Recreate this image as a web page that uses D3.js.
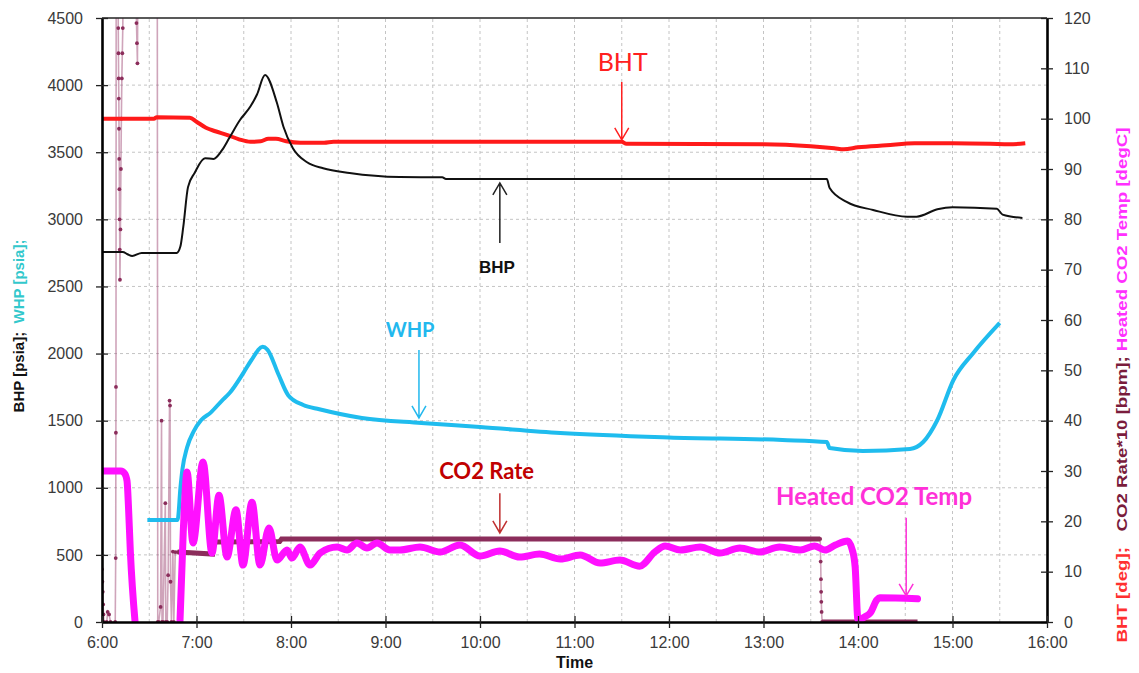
<!DOCTYPE html>
<html>
<head>
<meta charset="utf-8">
<script src="https://cdn.jsdelivr.net/npm/d3@7"></script>
<style>
  body { margin: 0; background: #fff; }
  svg { display: block; }
</style>
</head>
<body>
<svg id="chart" width="1139" height="673"></svg>
<script>
// time in decimal hours, pressures in psia (left axis), the rest on the right axis
var hourTicks = [6, 7, 8, 9, 10, 11, 12, 13, 14, 15, 16];
var leftTicks = [0, 500, 1000, 1500, 2000, 2500, 3000, 3500, 4000, 4500];
var rightTicks = [0, 10, 20, 30, 40, 50, 60, 70, 80, 90, 100, 110, 120];

var bht = [[6.00, 100], [6.55, 100], [6.58, 100.3], [6.93, 100.2], [7.00, 99.4], [7.10, 98.2],
  [7.20, 97.5], [7.32, 96.8], [7.45, 95.9], [7.57, 95.4], [7.68, 95.5], [7.76, 96.0], [7.84, 96.0],
  [7.95, 95.5], [8.10, 95.2], [8.35, 95.2], [8.45, 95.4], [10.0, 95.4], [11.5, 95.4], [11.55, 95.0],
  [13.0, 94.9], [13.5, 94.5], [13.75, 94.1], [13.85, 93.9], [14.0, 94.3], [14.3, 94.7], [14.6, 95.1],
  [15.0, 95.1], [15.4, 95.0], [15.6, 94.9], [15.77, 95.1]];

var bhp = [[6.00, 2757], [6.22, 2757], [6.27, 2740], [6.32, 2727], [6.42, 2750], [6.79, 2750],
  [6.83, 2800], [6.86, 2943], [6.91, 3240], [6.98, 3345], [7.09, 3455], [7.18, 3450], [7.27, 3515],
  [7.35, 3610], [7.46, 3740], [7.57, 3840], [7.64, 3930], [7.725, 4075], [7.85, 3870], [7.92, 3690],
  [8.02, 3530], [8.17, 3425], [8.34, 3380], [8.62, 3345], [9.15, 3315], [9.60, 3313], [9.64, 3300],
  [13.67, 3300], [13.70, 3233], [13.88, 3130], [14.16, 3070], [14.52, 3020], [14.62, 3020],
  [14.84, 3075], [15.00, 3090], [15.47, 3078], [15.53, 3035], [15.74, 3010]];

var whp = [[6.48, 760], [6.80, 760], [6.83, 1000], [6.85, 1132], [6.90, 1300], [6.97, 1420],
  [7.05, 1505], [7.15, 1560], [7.27, 1650], [7.35, 1706], [7.50, 1860], [7.58, 1950], [7.70, 2050],
  [7.75, 2030], [7.87, 1840], [7.97, 1690], [8.13, 1617], [8.30, 1585], [8.75, 1520], [9.38, 1483],
  [10.0, 1453], [10.85, 1408], [12.0, 1375], [13.2, 1356], [13.67, 1341], [13.70, 1296],
  [14.05, 1274], [14.55, 1289], [14.69, 1341], [14.84, 1505], [15.01, 1803], [15.22, 2004], [15.50, 2228]];

// raw CO2 rate*10 readings (noisy start and shut-down), values above 120 run off the chart
var co2Raw = [[6.000, 10.5], [6.004, 8], [6.008, 6], [6.012, 3.5], [6.016, 1.5], [6.02, 0], [6.05, 0],
  [6.06, 2], [6.075, 1.5], [6.09, 0], [6.14, 0], [6.145, 12.7], [6.147, 37.6], [6.148, 46.7],
  [6.15, 130], [6.17, 130], [6.172, 118], [6.174, 113], [6.176, 108], [6.178, 104], [6.18, 98],
  [6.182, 92], [6.184, 86], [6.186, 80], [6.188, 74], [6.19, 68], [6.195, 78], [6.20, 90],
  [6.205, 100], [6.21, 108], [6.215, 113], [6.22, 118], [6.225, 130], [6.36, 130], [6.365, 119],
  [6.37, 115], [6.375, 111], [6.38, 130], [6.585, 130], [6.59, 0], [6.60, 0], [6.62, 3], [6.63, 40],
  [6.635, 0], [6.645, 0], [6.67, 23.6], [6.675, 0], [6.69, 0], [6.70, 9.3], [6.715, 44], [6.72, 43],
  [6.725, 8], [6.735, 0], [6.75, 14], [6.76, 0], [6.775, 13.9], [6.80, 13.9], null,
  [13.60, 16.5], [13.605, 12], [13.608, 8.5], [13.61, 6], [13.612, 4], [13.615, 2], [13.62, 0]];

var co2Rate = [[6.80, 13.9], [7.17, 13.5], [7.18, 15.9], [7.88, 16.0], [7.90, 16.5], [13.60, 16.5],
  null, [13.62, 0], [14.63, 0]];

var co2Temp = [[6.00, 30], [6.20, 30], [6.24, 29.5], [6.265, 28], [6.28, 23], [6.30, 14], [6.35, 0],
  null, [6.825, 0], [6.86, 18], [6.90, 29.8], [6.963, 15.7], [7.069, 31.8], [7.164, 13.7],
  [7.238, 25.2], [7.323, 12.9], [7.418, 22.3], [7.492, 11.3], [7.587, 23.8], [7.672, 11.3],
  [7.767, 18.7], [7.852, 12.3], [7.958, 14.3], [8.011, 12.7], [8.095, 14.9], [8.201, 11.3],
  [8.307, 13.7], [8.487, 14.9], [8.593, 14.3], [8.698, 15.7], [8.804, 14.7], [8.910, 15.7],
  [9.048, 14.3], [9.153, 14.3], [9.365, 14.9], [9.577, 13.9], [9.788, 15.3], [10.0, 13.1],
  [10.21, 14.1], [10.42, 12.9], [10.63, 13.5], [10.85, 12.5], [11.06, 13.3], [11.27, 11.7],
  [11.48, 12.3], [11.69, 11.1], [11.85, 13.9], [11.96, 15.1], [12.12, 14.3], [12.33, 14.9],
  [12.54, 13.7], [12.75, 14.7], [12.96, 13.9], [13.17, 14.9], [13.39, 14.3], [13.54, 15.1],
  [13.65, 14.3], [13.76, 15.3], [13.89, 16.1], [13.94, 14.3], [13.97, 10.9], [14.00, 0.4],
  [14.07, 1.0], [14.13, 1.8], [14.20, 4.4], [14.23, 4.8], [14.63, 4.6]];

var svg = d3.select('#chart');
var x = d3.scaleLinear().domain([6, 16]).range([102, 1047]);
var yL = d3.scaleLinear().domain([0, 4500]).range([622, 18]);
var yR = d3.scaleLinear().domain([0, 120]).range([622, 18]);

var axisFont = '"Liberation Sans", Arial, sans-serif';
var noteFont = 'Lato, "Open Sans", sans-serif';

// grid
var grid = svg.append('g').attr('stroke', '#c4c4c4').attr('stroke-dasharray', '3,3');
grid.selectAll('line.h').data(leftTicks.slice(1, -1)).join('line')
  .attr('x1', x(6)).attr('x2', x(16))
  .attr('y1', function(d) { return yL(d); }).attr('y2', function(d) { return yL(d); });
grid.selectAll('line.v').data(d3.range(6.5, 16, 0.5)).join('line')
  .attr('y1', yL(0)).attr('y2', yL(4500))
  .attr('x1', function(d) { return x(d); }).attr('x2', function(d) { return x(d); });

svg.append('clipPath').attr('id', 'plot')
  .append('rect').attr('x', x(6)).attr('y', yL(4500)).attr('width', x(16) - x(6)).attr('height', yL(0) - yL(4500));

var plot = svg.append('g').attr('clip-path', 'url(#plot)');

function lineOn(yScale, curve) {
  return d3.line()
    .defined(function(d) { return d; })
    .curve(curve || d3.curveLinear)
    .x(function(d) { return x(d[0]); })
    .y(function(d) { return yScale(d[1]); });
}

// noisy CO2 rate readings
plot.append('path').datum(co2Raw)
  .attr('d', lineOn(yR)).attr('fill', 'none')
  .attr('stroke', '#a85a82').attr('stroke-opacity', 0.55).attr('stroke-width', 1.6);
plot.append('g').selectAll('circle').data(co2Raw.filter(function(d) { return d; })).join('circle')
  .attr('cx', function(d) { return x(d[0]); })
  .attr('cy', function(d) { return yR(d[1]); })
  .attr('r', 1.9).attr('fill', '#8b2d5b');

plot.append('path').datum(bht)
  .attr('d', lineOn(yR, d3.curveMonotoneX)).attr('fill', 'none')
  .attr('stroke', '#ff1a1a').attr('stroke-width', 4).attr('stroke-linejoin', 'round');

plot.append('path').datum(bhp)
  .attr('d', lineOn(yL, d3.curveMonotoneX)).attr('fill', 'none')
  .attr('stroke', '#111').attr('stroke-width', 2).attr('stroke-linejoin', 'round');

plot.append('path').datum(whp)
  .attr('d', lineOn(yL, d3.curveMonotoneX)).attr('fill', 'none')
  .attr('stroke', '#1fbcee').attr('stroke-width', 4).attr('stroke-linejoin', 'round');

plot.append('path').datum(co2Rate)
  .attr('d', lineOn(yR)).attr('fill', 'none')
  .attr('stroke', '#8b2d5b').attr('stroke-width', 5);

plot.append('path').datum(co2Temp)
  .attr('d', lineOn(yR, d3.curveMonotoneX)).attr('fill', 'none')
  .attr('stroke', '#ff10ff').attr('stroke-width', 7).attr('stroke-linejoin', 'round').attr('stroke-linecap', 'round');

// axes
function styleAxis(g) {
  g.attr('font-family', axisFont).attr('font-size', 16);
  g.selectAll('.tick text').attr('fill', '#3a3a3a');
  g.selectAll('.tick line').attr('stroke', '#222').attr('stroke-width', 1.3);
  g.select('.domain').attr('stroke', '#000').attr('stroke-width', 2.6);
}

svg.append('line').attr('x1', x(6)).attr('x2', x(16)).attr('y1', yL(4500)).attr('y2', yL(4500))
  .attr('stroke', '#222').attr('stroke-width', 1.5);

var gl = svg.append('g').attr('transform', 'translate(' + x(6) + ',0)')
  .call(d3.axisLeft(yL).tickValues(leftTicks).tickFormat(d3.format('d'))
    .tickSize(6).tickPadding(13).tickSizeOuter(0));
gl.selectAll('.tick line').attr('x1', 6);
styleAxis(gl);

var gr = svg.append('g').attr('transform', 'translate(' + x(16) + ',0)')
  .call(d3.axisRight(yR).tickValues(rightTicks).tickFormat(d3.format('d'))
    .tickSize(6).tickPadding(11).tickSizeOuter(0));
gr.selectAll('.tick line').attr('x1', -6);
styleAxis(gr);

var gb = svg.append('g').attr('transform', 'translate(0,' + yL(0) + ')')
  .call(d3.axisBottom(x).tickValues(hourTicks).tickSize(6).tickPadding(9).tickSizeOuter(0)
    .tickFormat(function(d) { return d + ':00'; }));
gb.selectAll('.tick line').attr('y1', -6);
styleAxis(gb);

svg.append('text').attr('x', (x(6) + x(16)) / 2).attr('y', 668)
  .attr('text-anchor', 'middle').attr('font-family', axisFont).attr('font-weight', 'bold')
  .attr('font-size', 16).attr('fill', '#111').text('Time');

// axis titles
var lt = svg.append('text').attr('transform', 'translate(24,326) rotate(-90)')
  .attr('text-anchor', 'middle').attr('font-family', axisFont).attr('font-weight', 'bold')
  .attr('font-size', 15).attr('xml:space', 'preserve');
lt.append('tspan').attr('fill', '#111').text('BHP [psia];');
lt.append('tspan').attr('fill', '#33c8cc').text('  WHP [psia];');

var rt = svg.append('text').attr('transform', 'translate(1127,385) rotate(-90)')
  .attr('text-anchor', 'middle').attr('font-family', axisFont).attr('font-weight', 'bold')
  .attr('font-size', 15).attr('xml:space', 'preserve')
  .attr('textLength', 515).attr('lengthAdjust', 'spacingAndGlyphs');
rt.append('tspan').attr('fill', '#ff3030').text('BHT [deg];  ');
rt.append('tspan').attr('fill', '#7a1c3c').text(' CO2 Rate*10 [bpm]; ');
rt.append('tspan').attr('fill', '#ff30ff').text('Heated CO2 Temp [degC]');

// callouts
var notes = [
  { label: 'BHT', color: '#ff2020', arrow: '#ff2020', weight: 'normal', size: 25, font: noteFont, scale: yR,
    tx: 11.51, ty: 109.5, ax: 11.50, from: 107.3, to: 95.8 },
  { label: 'BHP', color: '#111', arrow: '#222', weight: 'bold', size: 17, font: axisFont, scale: yL,
    tx: 10.18, ty: 2600, ax: 10.21, from: 2824, to: 3271 },
  { label: 'WHP', color: '#22b8ee', arrow: '#22b8ee', weight: 'bold', size: 20, font: noteFont, scale: yL,
    tx: 9.26, ty: 2120, ax: 9.354, from: 2026, to: 1520 },
  { label: 'CO2 Rate', color: '#c00000', arrow: '#c03030', weight: 'bold', size: 22, font: noteFont, scale: yR,
    tx: 10.07, ty: 28.4, ax: 10.21, from: 25.6, to: 17.7 },
  { label: 'Heated CO2 Temp', color: '#ff30d8', arrow: '#ff30d8', weight: 'bold', size: 24, font: noteFont, scale: yR,
    tx: 14.17, ty: 23.2, ax: 14.51, from: 20.7, to: 5.2 }
];

var ng = svg.append('g').selectAll('g').data(notes).join('g');
ng.append('text')
  .attr('x', function(d) { return x(d.tx); })
  .attr('y', function(d) { return d.scale(d.ty); })
  .attr('text-anchor', 'middle')
  .attr('font-family', function(d) { return d.font; })
  .attr('font-weight', function(d) { return d.weight; })
  .attr('font-size', function(d) { return d.size; })
  .attr('fill', function(d) { return d.color; })
  .text(function(d) { return d.label; });
ng.append('path')
  .attr('fill', 'none')
  .attr('stroke', function(d) { return d.arrow; })
  .attr('stroke-width', 1.5)
  .attr('d', function(d) {
    var ax = x(d.ax), y0 = d.scale(d.from), y1 = d.scale(d.to);
    var dir = y1 > y0 ? -1 : 1;
    return 'M' + ax + ',' + y0 + 'L' + ax + ',' + y1 +
      'M' + (ax - 7) + ',' + (y1 + dir * 12) + 'L' + ax + ',' + y1 + 'L' + (ax + 7) + ',' + (y1 + dir * 12);
  });
</script>
</body>
</html>
